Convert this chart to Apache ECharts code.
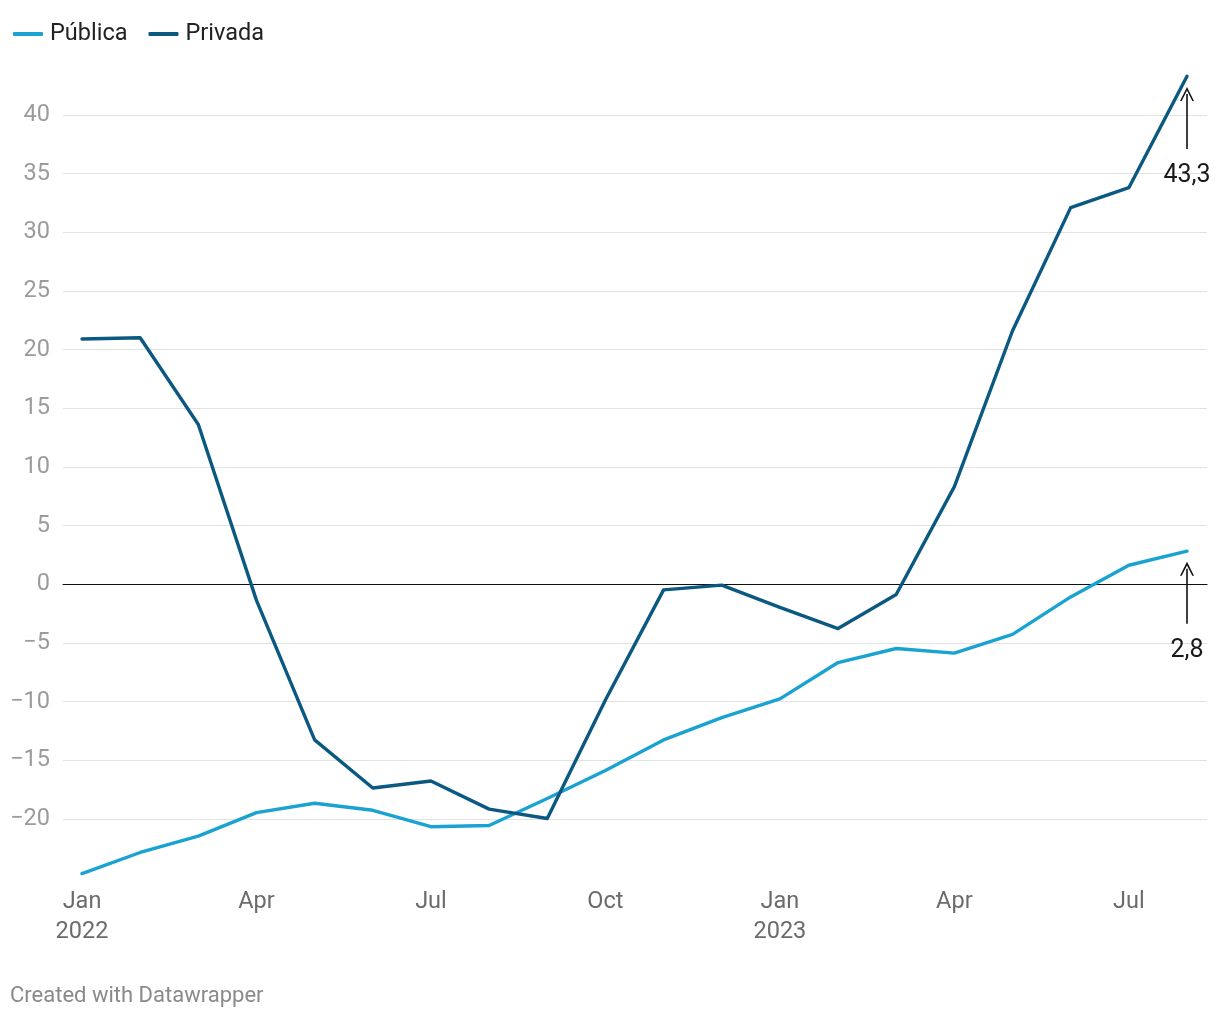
<!DOCTYPE html>
<html>
<head>
<meta charset="utf-8">
<script src="https://cdn.jsdelivr.net/npm/echarts@6/dist/echarts.min.js"></script>
<style>
html,body{margin:0;padding:0;background:#fff;}
#chart{width:1220px;height:1020px;}
</style>
</head>
<body>
<div id="chart"></div>
<script>
const months = ['Jan\n2022','Feb','Mar','Apr','May','Jun','Jul','Aug','Sep','Oct','Nov','Dec',
                'Jan\n2023','Feb','Mar','Apr','May','Jun','Jul','Aug'];
const shownMonthIdx = [0,3,6,9,12,15,18];
const publica = [-24.7,-22.9,-21.5,-19.5,-18.7,-19.3,-20.7,-20.6,-18.3,-15.9,-13.3,-11.4,
                 -9.8,-6.7,-5.5,-5.9,-4.3,-1.1,1.6,2.8];
const privada = [20.9,21.0,13.6,-1.4,-13.3,-17.4,-16.8,-19.2,-20.0,-9.9,-0.5,-0.1,
                 -2.0,-3.8,-0.9,8.3,21.6,32.1,33.8,43.3];
const seriesNames = ['Pública','Privada'];
const colors = ['#1aa3d1','#0b5980'];
const yTicks = {min:-20, max:40, interval:5};
const footer = 'Created with Datawrapper';

const fontFamily = 'Roboto, "Noto Sans", sans-serif';
const fmtNum = v => (v < 0 ? '\u2212' + Math.abs(v) : String(v));
const fmtDec = v => String(v).replace('.', ',');
const chevron = 'path://M0,10 L5,0 L10,10 L8.8,10 L5,2.6 L1.2,10 Z';

function annot(data) {
  const i = data.length - 1, v = data[i];
  return {
    silent: true,
    symbol: ['none', chevron],
    symbolSize: 14,
    lineStyle: {color: '#111', width: 1.6, type: 'solid'},
    label: {
      show: true, position: 'start', distance: 14,
      formatter: fmtDec(v), color: '#1a1a1a',
      fontSize: 25, fontFamily: fontFamily
    },
    data: [[{coord: [i, v - 6.2]}, {coord: [i, v - 1.5]}]]
  };
}

const chart = echarts.init(document.getElementById('chart'));
chart.setOption({
  animation: false,
  backgroundColor: '#fff',
  textStyle: {fontFamily: fontFamily},
  legend: {
    left: 8, top: 17,
    itemWidth: 30, itemHeight: 4, itemGap: 21,
    icon: 'roundRect',
    textStyle: {fontSize: 23.5, color: '#222', fontFamily: fontFamily, padding: [0, 0, 0, 2]},
    data: seriesNames
  },
  graphic: [{
    type: 'text', left: 10, top: 985,
    style: {text: footer, fontSize: 22, fill: '#8a8a8a', fontFamily: fontFamily}
  }],
  grid: [
    {left: 63, right: 13, top: 115, bottom: 201},
    {left: 82, right: 33, top: 56.4, bottom: 142.9}
  ],
  xAxis: [
    {gridIndex: 0, type: 'value', min: 0, max: 1,
     axisLine: {show: true, onZero: true, lineStyle: {color: '#111', width: 1.2}},
     axisTick: {show: false}, axisLabel: {show: false}, splitLine: {show: false}},
    {gridIndex: 1, type: 'category', data: months, boundaryGap: false,
     axisLine: {show: false}, axisTick: {show: false}, splitLine: {show: false},
     axisLabel: {
       interval: (idx) => shownMonthIdx.includes(idx),
       color: '#6b6b6b', fontSize: 23.5, lineHeight: 30, margin: 10,
       fontFamily: fontFamily
     }}
  ],
  yAxis: [
    {gridIndex: 0, type: 'value', min: yTicks.min, max: yTicks.max, interval: yTicks.interval,
     axisLine: {show: false}, axisTick: {show: false},
     axisLabel: {formatter: fmtNum, color: '#9b9b9b', fontSize: 23.5, margin: 13, fontFamily: fontFamily},
     splitLine: {show: true, lineStyle: {color: '#e2e2e2', width: 1.2}}},
    {gridIndex: 1, type: 'value', min: -25, max: 45, interval: 5,
     axisLine: {show: false}, axisTick: {show: false}, axisLabel: {show: false},
     splitLine: {show: false}}
  ],
  series: [
    {name: seriesNames[0], type: 'line', xAxisIndex: 1, yAxisIndex: 1, data: publica,
     symbol: 'none', lineStyle: {color: colors[0], width: 3.4, cap: 'round', join: 'round'},
     itemStyle: {color: colors[0]}, z: 3,
     markLine: annot(publica)},
    {name: seriesNames[1], type: 'line', xAxisIndex: 1, yAxisIndex: 1, data: privada,
     symbol: 'none', lineStyle: {color: colors[1], width: 3.4, cap: 'round', join: 'round'},
     itemStyle: {color: colors[1]}, z: 4,
     markLine: annot(privada)}
  ]
});
</script>
</body>
</html>
